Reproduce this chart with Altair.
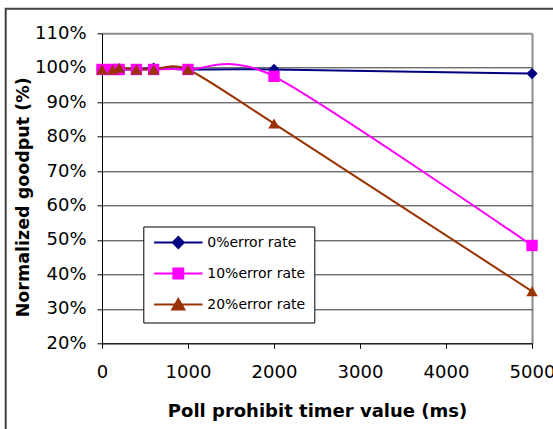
import altair as alt
import pandas as pd

# ---- data ----
timer_ms = [0, 125, 200, 400, 600, 1000, 2000, 5000]
series_names = ["0%error rate", "10%error rate", "20%error rate"]
goodput_err0 = [99.5, 99.5, 99.5, 99.5, 99.9, 99.5, 99.5, 98.3]
goodput_err10 = [99.5, 99.5, 99.5, 99.5, 99.5, 99.5, 97.5, 48.4]
goodput_err20 = [99.5, 99.5, 100.0, 99.5, 99.5, 99.5, 83.8, 35.1]
x_ticks = [0, 1000, 2000, 3000, 4000, 5000]
y_ticks = [20, 30, 40, 50, 60, 70, 80, 90, 100, 110]

# ---- styles ----
series_colors = ["#000080", "#FF00FF", "#993300"]
marker_shapes = ["diamond", "square", "triangle-up"]
legend_symbols = [
    "M-4.4,0H4.4M0,-1L1,0L0,1L-1,0Z",
    "M-4.4,0H4.4M-0.9,-0.9H0.9V0.9H-0.9Z",
    "M-4.4,0H4.4M0,-1L1.1,0.9H-1.1Z",
]
FONT = "DejaVu Sans"

rows = []
for name, vals in zip(series_names, [goodput_err0, goodput_err10, goodput_err20]):
    for t, v in zip(timer_ms, vals):
        rows.append({"timer": t, "goodput": v, "series": name})
df = pd.DataFrame(rows)

x_axis = alt.Axis(
    values=x_ticks, format="d", labelFont=FONT, labelFontSize=18, labelColor="black",
    labelPadding=15, labelFlush=False, labelOverlap=False,
    tickColor="black", tickSize=5, domainColor="black", domainWidth=1,
    grid=True,
    gridColor=alt.condition("datum.value == 5000", alt.value("#8c8c8c"), alt.value("transparent")),
    gridWidth=2,
    title="Poll prohibit timer value (ms)", titleFont=FONT, titleFontSize=18,
    titleFontWeight="bold", titleColor="black", titleX=215, titleY=72.7,
    titleBaseline="alphabetic", titleAlign="center",
)
y_axis = alt.Axis(
    values=y_ticks, labelExpr="datum.value + '%'", labelFont=FONT, labelFontSize=18,
    labelColor="black", labelPadding=11, labelOverlap=False,
    tickColor="black", tickSize=5, domainColor="black", domainWidth=1,
    grid=True,
    gridColor=alt.condition("datum.value == 110", alt.value("#8c8c8c"), alt.value("#333333")),
    gridWidth=alt.condition("datum.value == 110", alt.value(2), alt.value(1)),
    title="Normalized goodput (%)", titleFont=FONT, titleFontSize=17.5,
    titleFontWeight="bold", titleColor="black", titleX=-74, titleY=163.5,
    titleAngle=-90, titleBaseline="alphabetic", titleAlign="center",
)

x_enc = alt.X("timer:Q", scale=alt.Scale(domain=[0, 5000], nice=False, zero=False), axis=x_axis)
y_enc = alt.Y("goodput:Q", scale=alt.Scale(domain=[20, 110], nice=False, zero=False), axis=y_axis)
color_scale = alt.Scale(domain=series_names, range=series_colors)

base = alt.Chart(df)

lines = base.mark_line(interpolate="cardinal", tension=0.2, strokeWidth=2).encode(
    x=x_enc, y=y_enc, color=alt.Color("series:N", scale=color_scale, legend=None)
)
points = base.mark_point(filled=True, size=130, opacity=1).encode(
    x=x_enc, y=y_enc,
    color=alt.Color("series:N", scale=color_scale, legend=None),
    shape=alt.Shape("series:N", scale=alt.Scale(domain=series_names, range=marker_shapes), legend=None),
)

frame = alt.Chart(pd.DataFrame({"frame": [0]})).mark_rect(
    fillOpacity=0, stroke="#404040", strokeWidth=2
).encode(x=alt.value(-96.3), x2=alt.value(540), y=alt.value(-24.5), y2=alt.value(460))

leg = alt.Legend(
    orient="none", legendX=41.3, legendY=193.2, title=None,
    fillColor="white", strokeColor="black", padding=9,
    symbolSize=121, symbolStrokeWidth=2, symbolOpacity=1,
    symbolOffset=19, labelOffset=22,
    labelFont=FONT, labelFontSize=14, labelColor="black", rowPadding=12,
)
legend_layer = base.mark_point(filled=True, opacity=0, size=121).encode(
    x=x_enc, y=y_enc,
    fill=alt.Fill("series:N", scale=alt.Scale(domain=series_names, range=series_colors), legend=leg),
    stroke=alt.Stroke("series:N", scale=alt.Scale(domain=series_names, range=series_colors), legend=leg),
    shape=alt.Shape("series:N", scale=alt.Scale(domain=series_names, range=legend_symbols), legend=leg),
)

inner = alt.layer(frame, lines, points)
chart = (
    alt.layer(inner, legend_layer)
    .resolve_scale(shape="independent", fill="independent", stroke="independent")
    .properties(
        width=430, height=310, autosize=alt.AutoSizeParams(type="none"),
        padding={"left": 102, "top": 33.3, "right": 21, "bottom": 85.7},
        background="white",
    )
    .configure_view(stroke="transparent")
)

chart.save("out.html", embed_options={"renderer": "svg", "actions": False})
